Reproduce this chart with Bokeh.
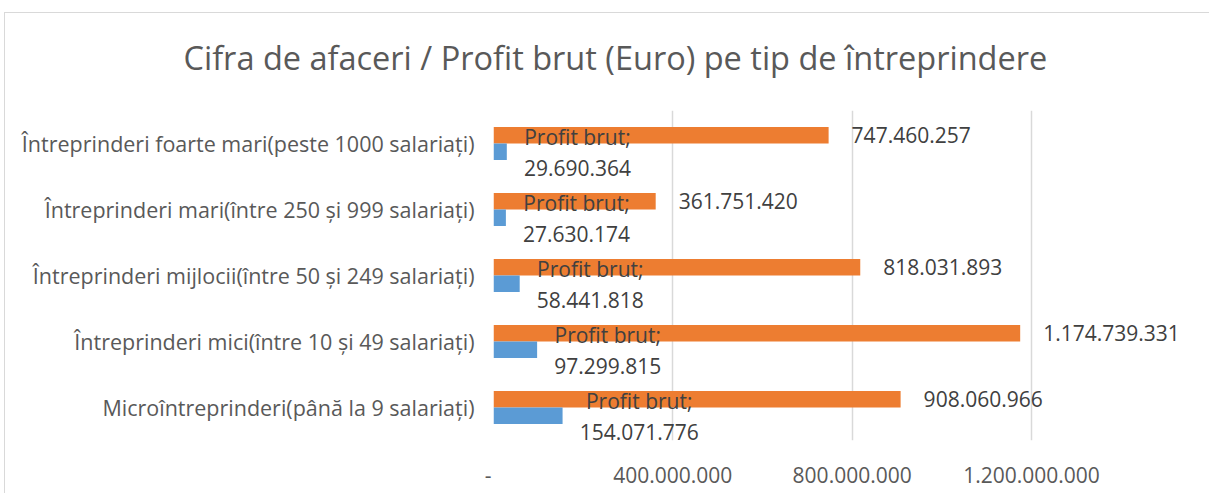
from bokeh.plotting import figure
from bokeh.models import FactorRange, Range1d, FixedTicker, Title, ColumnDataSource, InlineStyleSheet
from bokeh.transform import dodge
from bokeh.core.properties import value
from bokeh.embed import file_html
from bokeh.resources import INLINE

# ---- data (bottom to top) ----
categories = [
    "Microîntreprinderi(până la 9 salariați)",
    "Întreprinderi mici(între 10 și 49 salariați)",
    "Întreprinderi mijlocii(între 50 și 249 salariați)",
    "Întreprinderi mari(între 250 și 999 salariați)",
    "Întreprinderi foarte mari(peste 1000 salariați)",
]
cifra_afaceri = [908060966, 1174739331, 818031893, 361751420, 747460257]
profit_brut = [154071776, 97299815, 58441818, 27630174, 29690364]
series_names = ["Cifra de afaceri", "Profit brut"]
tick_values = [0, 400000000, 800000000, 1200000000]
tick_labels = ["-\u00a0\u00a0", "400.000.000", "800.000.000", "1.200.000.000"]
title_text = "Cifra de afaceri / Profit brut (Euro) pe tip de întreprindere"

FONT = "Open Sans"
ORANGE = "#ED7D31"
BLUE = "#5B9BD5"


def fmt(v):
    return f"{v:,}".replace(",", ".")


def est_width(s, size=21):
    w = 0.0
    for ch in s:
        if ch.isdigit():
            w += 0.572
        elif ch in ".;":
            w += 0.266
        else:
            w += 0.5
    return w * size


orange_labels = [fmt(v) for v in cifra_afaceri]
blue_labels = [f"{series_names[1]};\n{fmt(v)}" for v in profit_brut]
blue_offsets = [17 + max(est_width(fmt(v)), 107) / 2 for v in profit_brut]

src = ColumnDataSource(dict(
    cat=categories, ca=cifra_afaceri, pb=profit_brut,
    ol=orange_labels, bl=blue_labels, bo=blue_offsets,
))

p = figure(
    width=1209, height=493,
    y_range=FactorRange(factors=categories, range_padding=0),
    x_range=Range1d(0, 1.597e9),
    output_backend="svg", toolbar_location=None,
    min_border_left=493, min_border_right=0,
    min_border_top=110, min_border_bottom=53,
)
p.outline_line_color = None
p.background_fill_color = "white"
p.border_fill_color = "white"

p.hbar(y=dodge("cat", 0.125, range=p.y_range), right="ca", left=0, height=0.25,
       source=src, color=ORANGE, line_color=None)
p.hbar(y=dodge("cat", -0.125, range=p.y_range), right="pb", left=0, height=0.25,
       source=src, color=BLUE, line_color=None)

p.text(x="ca", y=dodge("cat", 0.125, range=p.y_range), text="ol", source=src,
       x_offset=23, text_align="left", text_baseline="middle",
       text_font=value(FONT), text_font_size="21px", text_color="#404040")
p.text(x="pb", y=dodge("cat", -0.125, range=p.y_range), text="bl", source=src,
       x_offset="bo", y_offset=1, text_align="center", text_baseline="middle",
       text_line_height=1.1,
       text_font=value(FONT), text_font_size="21px", text_color="#404040")

# axes
p.xaxis.ticker = FixedTicker(ticks=tick_values)
p.xaxis.major_label_overrides = {v: l for v, l in zip(tick_values, tick_labels)}
p.xaxis.axis_line_color = None
p.xaxis.major_tick_line_color = None
p.xaxis.minor_tick_line_color = None
p.xaxis.major_tick_out = 0
p.xaxis.major_label_standoff = 20
p.xaxis.major_label_text_font = FONT
p.xaxis.major_label_text_font_size = "21px"
p.xaxis.major_label_text_color = "#595959"

p.yaxis.axis_line_color = None
p.yaxis.major_tick_line_color = None
p.yaxis.minor_tick_line_color = None
p.yaxis.major_tick_out = 0
p.yaxis.major_label_standoff = 19
p.yaxis.major_label_text_font = FONT
p.yaxis.major_label_text_font_size = "21.5px"
p.yaxis.major_label_text_color = "#595959"

p.ygrid.grid_line_color = None
p.xgrid.grid_line_color = "#D9D9D9"
p.xgrid.grid_line_width = 1.5

p.add_layout(Title(text=title_text, align="left", offset=-310, standoff=61,
                   text_font=FONT, text_font_size="32.5px", text_font_style="normal",
                   text_color="#595959"), "above")

p.stylesheets = [InlineStyleSheet(css=(
    ":host::after{content:'';position:absolute;left:4px;top:12px;right:0;bottom:0;"
    "border-left:1px solid #D9D9D9;border-top:1px solid #D9D9D9;"
    "pointer-events:none;z-index:10;}"
))]

open("out.html", "w").write(file_html(p, INLINE))
